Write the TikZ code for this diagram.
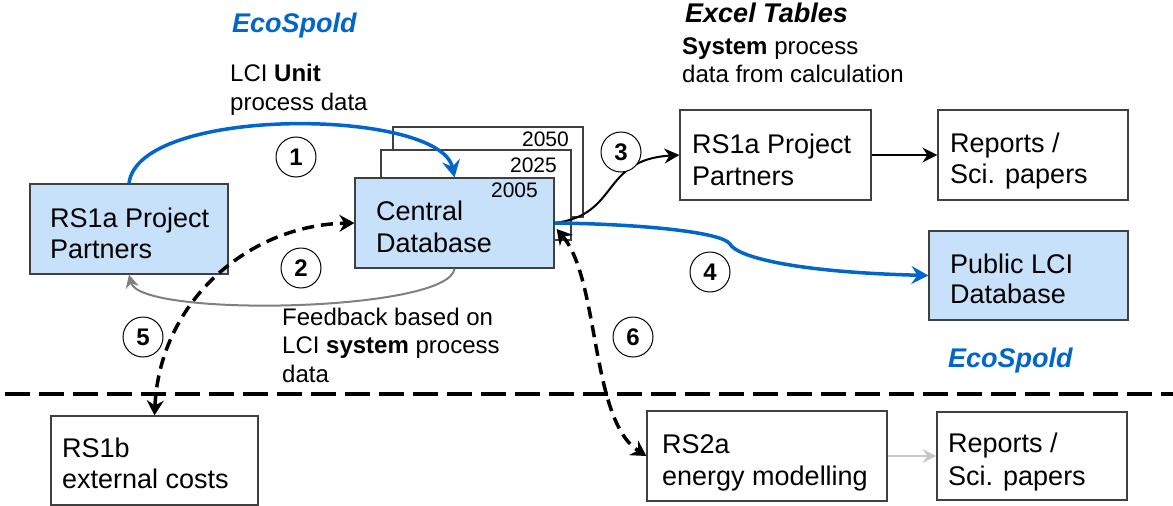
\documentclass[tikz,border=0pt]{standalone}
\usepackage{fontspec}
\setmainfont{Liberation Sans}
\usetikzlibrary{arrows.meta,calc}
\definecolor{eblue}{RGB}{0,102,204}
\definecolor{boxfill}{RGB}{199,225,250}
\definecolor{fbgray}{RGB}{128,128,128}
\definecolor{ltgray}{RGB}{200,200,200}
\newcommand{\twol}[3]{\vtop{\baselineskip=#1pt \hbox{#2}\hbox{#3}}}
\newcommand{\threel}[4]{\vtop{\baselineskip=#1pt \hbox{#2}\hbox{#3}\hbox{#4}}}
\tikzset{
  box/.style={draw=black!75, line width=1.2pt, inner sep=0pt, fill=white},
  bluebox/.style={box, fill=boxfill},
  lbl/.style={inner sep=0pt, anchor=base west, font=\fontsize{27}{31}\selectfont},
  small/.style={inner sep=0pt, anchor=base west, font=\fontsize{24}{29}\selectfont},
  yearlbl/.style={inner sep=0pt, anchor=base east, font=\fontsize{21}{24}\selectfont},
  header/.style={inner sep=0pt, anchor=base west, font=\fontsize{27}{31}\selectfont\bfseries\itshape},
  numcirc/.style={draw=black, line width=1pt, circle, fill=white, minimum size=40pt, inner sep=0pt, font=\fontsize{24}{24}\selectfont\bfseries},
  bluearrow/.style={draw=eblue, line width=3.5pt, -{Stealth[length=17pt, width=18pt, inset=6pt]}},
  blackarrow/.style={draw=black, line width=2pt, -{Stealth[length=15pt, width=15pt, inset=5pt]}},
  grayarrow/.style={draw=fbgray, line width=2pt, -{Stealth[length=13pt, width=13pt, inset=4pt]}},
  ltarrow/.style={draw=ltgray, line width=2pt, -{Stealth[length=14pt, width=14pt, inset=5pt]}},
  dasharrow/.style={draw=black, line width=3.5pt, dash pattern=on 12pt off 7pt, {Stealth[length=15pt, width=17pt, inset=5pt]}-{Stealth[length=15pt, width=17pt, inset=5pt]}},
  sepline/.style={draw=black, line width=4pt, dash pattern=on 25pt off 9pt}
}
\begin{document}
\begin{tikzpicture}[x=1pt,y=-1pt]
\useasboundingbox (0,0) rectangle (1173,506);

% boxes
\node[box, minimum width=190pt, minimum height=90pt] (S2050) at (488,172) {};
\node[box, minimum width=190pt, minimum height=90pt] (S2025) at (476,195) {};
\node[bluebox, minimum width=199pt, minimum height=90pt] (C) at (454.5,223) {};
\node[bluebox, minimum width=198pt, minimum height=90pt] (L) at (129,229) {};
\node[box, minimum width=191pt, minimum height=90pt] (R1) at (775.5,155) {};
\node[box, minimum width=190pt, minimum height=90pt] (RP1) at (1033,155) {};
\node[bluebox, minimum width=199pt, minimum height=89pt] (PUB) at (1028.5,275.5) {};
\node[box, minimum width=207pt, minimum height=89pt] (RS1b) at (154.5,460.5) {};
\node[box, minimum width=240pt, minimum height=90pt] (RS2a) at (767,456) {};
\node[box, minimum width=190pt, minimum height=88pt] (RP2) at (1032,456) {};

% box texts
\node[lbl] (tL) at (50,227) {\twol{31}{RS1a Project}{Partners}};
\node[lbl] (tC) at (376,220) {\twol{32}{Central}{Database}};
\node[yearlbl] (y2050) at (569,146) {2050};
\node[yearlbl] (y2025) at (557,172) {2025};
\node[yearlbl] (y2005) at (538,197) {2005};
\node[lbl] (tR1) at (692,153) {\twol{32}{RS1a Project}{Partners}};
\node[lbl] (tRP1) at (950,152) {\twol{31}{Reports /}{Sci. papers}};
\node[lbl] (tPUB) at (950,273) {\twol{30}{Public LCI}{Database}};
\node[lbl] (tRS1b) at (62,457) {\twol{31}{RS1b}{external costs}};
\node[lbl] (tRS2a) at (662,453) {\twol{32}{RS2a}{energy modelling}};
\node[lbl] (tRP2) at (948,452) {\twol{33}{Reports /}{Sci. papers}};

% headers and annotations
\node[header, text=eblue] (eco1) at (232,32) {EcoSpold};
\node[small] (unit) at (230,81) {\twol{29}{LCI \textbf{Unit}}{process data}};
\node[header] (excel) at (685,23) {Excel Tables};
\node[small] (sys) at (682,54) {\twol{28}{\textbf{System} process}{data from calculation}};
\node[small] (fb) at (282,325) {\threel{28.5}{Feedback based on}{LCI \textbf{system} process}{data}};
\node[header, text=eblue] (eco2) at (948,367) {EcoSpold};

% separator
\coordinate (sepA) at (5,394);
\coordinate (sepB) at (1173,394);
\draw[sepline] (sepA) -- (sepB);

% connectors
\draw[bluearrow] (L.north) .. controls (138,105) and (440,108) .. (C.north);
\draw[grayarrow] (C.south) .. controls (450,312) and (140,318) .. (L.south);
\draw[dasharrow] (RS1b.north) .. controls (160,300) and (250,225) .. (C.west);
\draw[blackarrow] (C.east) .. controls (620,215) and (600,160) .. (R1.west);
\draw[bluearrow] (C.east) .. controls (640,224) and (722,232) .. (730,244) .. controls (736,256) and (790,272) .. (PUB.west);
\draw[dasharrow] ($(C.east)+(2,6)$) .. controls (600,280) and (590,420) .. (RS2a.west);
\draw[blackarrow] (R1.east) -- (RP1.west);
\draw[ltarrow] (RS2a.east) -- (RP2.west);

% numbered circles
\node[numcirc] (n1) at (296,157) {1};
\node[numcirc] (n2) at (301,268) {2};
\node[numcirc] (n3) at (621,152) {3};
\node[numcirc] (n4) at (710,272) {4};
\node[numcirc] (n5) at (143,337) {5};
\node[numcirc] (n6) at (633,337) {6};
\end{tikzpicture}
\end{document}
